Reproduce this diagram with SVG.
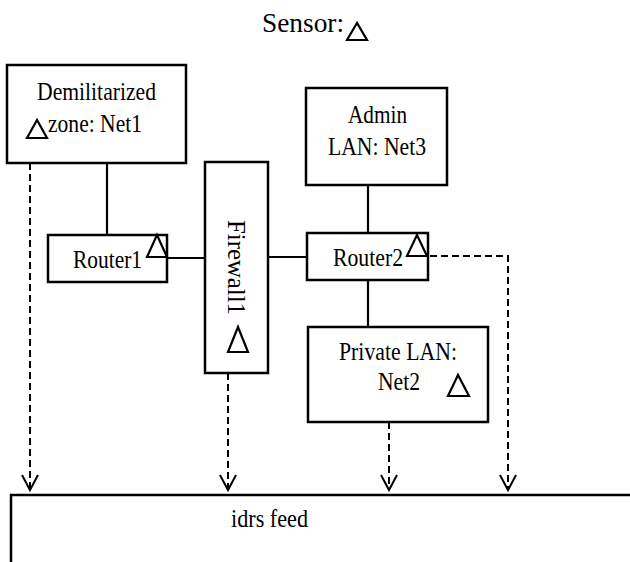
<svg xmlns="http://www.w3.org/2000/svg" width="630" height="562" viewBox="0 0 630 562">
<style>
.box{fill:none;stroke:#000;stroke-width:2.5}
.tri{fill:none;stroke:#000;stroke-width:2.2;stroke-linejoin:miter}
.ln{fill:none;stroke:#000;stroke-width:2.2}
.dash{fill:none;stroke:#000;stroke-width:2;stroke-dasharray:7 4}
text{font-family:"Liberation Serif","Times New Roman",serif;font-size:25px;fill:#000}
</style>
<defs>
<marker id="arr" markerUnits="userSpaceOnUse" markerWidth="20" markerHeight="20" refX="0" refY="0" viewBox="-17 -10 20 20" orient="auto">
<path d="M-15,-8 L0,0 L-15,8" fill="none" stroke="#000" stroke-width="2"/>
</marker>
</defs>
<rect width="630" height="562" fill="#fff"/>
<g id="legend">
<text x="262" y="32" style="font-size:28px" textLength="82" lengthAdjust="spacingAndGlyphs">Sensor:</text>
<polygon class="tri" points="357,23 347,40 367,40"/>
</g>
<g id="connectors">
<line class="ln" x1="107" y1="163" x2="107" y2="235"/>
<line class="ln" x1="368" y1="185" x2="368" y2="233"/>
<line class="ln" x1="167" y1="258" x2="205" y2="258"/>
<line class="ln" x1="268" y1="257" x2="307" y2="257"/>
<line class="ln" x1="368" y1="280" x2="368" y2="327"/>
<line class="dash" x1="30" y1="163" x2="30" y2="490" marker-end="url(#arr)"/>
<line class="dash" x1="228" y1="373" x2="228" y2="490" marker-end="url(#arr)"/>
<line class="dash" x1="389" y1="422" x2="389" y2="490" marker-end="url(#arr)"/>
<polyline class="dash" points="430,256 508,256 508,490" marker-end="url(#arr)"/>
</g>
<g id="dmz">
<rect class="box" x="7" y="65" width="179" height="98"/>
<text x="37" y="100" textLength="119" lengthAdjust="spacingAndGlyphs">Demilitarized</text>
<text x="48" y="132" textLength="94" lengthAdjust="spacingAndGlyphs">zone: Net1</text>
<polygon class="tri" points="37,120 27,138 47,138"/>
</g>
<g id="admin">
<rect class="box" x="306" y="88" width="141" height="97"/>
<text x="348" y="123" textLength="59" lengthAdjust="spacingAndGlyphs">Admin</text>
<text x="328" y="155" textLength="98" lengthAdjust="spacingAndGlyphs">LAN: Net3</text>
</g>
<g id="router1">
<rect class="box" x="48" y="235" width="119" height="47"/>
<text x="73" y="268" textLength="69" lengthAdjust="spacingAndGlyphs">Router1</text>
<polygon class="tri" points="157,235 147,257 167,257"/>
</g>
<g id="firewall1">
<rect class="box" x="205" y="162" width="63" height="211"/>
<text transform="translate(228,220) rotate(90)" x="0" y="0" textLength="95" lengthAdjust="spacingAndGlyphs">Firewall1</text>
<polygon class="tri" points="238,327 228,352 248,352"/>
</g>
<g id="router2">
<rect class="box" x="307" y="233" width="121" height="47"/>
<text x="333" y="266" textLength="70" lengthAdjust="spacingAndGlyphs">Router2</text>
<polygon class="tri" points="417,235 407,256 427,256"/>
</g>
<g id="private">
<rect class="box" x="308" y="327" width="180" height="95"/>
<text x="339" y="360" textLength="118" lengthAdjust="spacingAndGlyphs">Private LAN:</text>
<text x="378" y="390" textLength="42" lengthAdjust="spacingAndGlyphs">Net2</text>
<polygon class="tri" points="458,375 448,396 469,396"/>
</g>
<g id="idrs">
<rect class="box" x="11" y="495" width="640" height="80"/>
<text x="231" y="527" textLength="77" lengthAdjust="spacingAndGlyphs">idrs feed</text>
</g>
</svg>
